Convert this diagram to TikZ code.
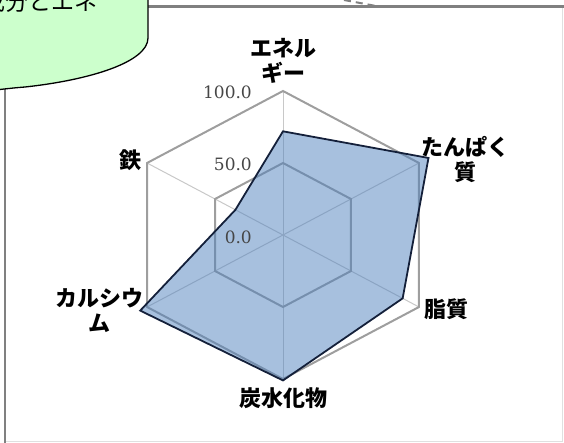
\documentclass[tikz,border=0pt]{standalone}
\usepackage{fontspec}
\newfontfamily\jpfont{Noto Sans CJK JP}
\newfontfamily\numfont{DejaVu Serif}
\usetikzlibrary{positioning}

\definecolor{bubblegreen}{RGB}{204,255,204}
\definecolor{areablue}{RGB}{79,129,189}
\definecolor{edgenavy}{RGB}{20,32,58}
\definecolor{gridgray}{RGB}{158,158,158}
\definecolor{spokegray}{RGB}{200,200,200}
\definecolor{numgray}{RGB}{70,70,70}
\definecolor{framegray}{RGB}{128,128,128}

\begin{document}
\begin{tikzpicture}[x=1pt, y=-1pt,
		grid/.style={draw=gridgray, line width=2pt},
		spoke/.style={draw=spokegray, line width=1pt},
		area/.style={draw=edgenavy, line width=1.8pt, fill=areablue, fill opacity=0.5, draw opacity=1},
		axislabel/.style={font=\jpfont\bfseries\fontsize{22}{25}\selectfont, align=center, inner sep=0},
		numlabel/.style={font=\numfont\fontsize{17}{17}\selectfont, text=numgray, anchor=east, inner sep=0}]
		\useasboundingbox (0,0) rectangle (564,443);
		\clip (0,0) rectangle (564,443);
		
		% frame
		\draw[draw=black!12, line width=1pt] (5,6) rectangle (562,441);
		\draw[framegray, line width=2.5pt] (5,443) -- (5,40);
		\draw[framegray, line width=2.5pt] (120,6.5) -- (564,6.5);
		\draw[framegray, line width=2pt, dash pattern=on 7pt off 5pt] (344,0) -- (376,6);	% cut arrow
		
		% radar chart
		\begin{scope}[shift={(283,235)}, x=1.57pt, y=1.44pt]
			\coordinate (c) at (0,0);
			\foreach \i in {0,...,5} {
				\coordinate (o\i) at (90-60*\i:100);
				\coordinate (h\i) at (90-60*\i:50);
				\draw[spoke] (c) -- (o\i);
			}
			\draw[grid] (o0) -- (o1) -- (o2) -- (o3) -- (o4) -- (o5) -- cycle;
			\draw[grid] (h0) -- (h1) -- (h2) -- (h3) -- (h4) -- (h5) -- cycle;
			\foreach \v [count=\i from 0] in {72,107,88,101,105,35}
				\coordinate (d\i) at (90-60*\i:\v);
			\draw[area] (d0) -- (d1) -- (d2) -- (d3) -- (d4) -- (d5) -- cycle;
		\end{scope}
		
		\node[numlabel] (v100) at (252,92) {100.0};
		\node[numlabel] (v50) at (252,164) {50.0};
		\node[numlabel] (v0) at (252,237) {0.0};
		
		\node[axislabel] (energy) at (283,61) {エネル\\ギー};
		\node[axislabel] (protein) at (465,160) {たんぱく\\質};
		\node[axislabel] (fat) at (446,309) {脂質};
		\node[axislabel] (carb) at (283,398) {炭水化物};
		\node[axislabel] (calcium) at (99,310) {カルシウ\\ム};
		\node[axislabel] (iron) at (130,160) {鉄};
		
		% callout
		\draw[fill=bubblegreen, line width=1.3pt] (-5,-5) -- (148,-5) -- (148,38)
			.. controls (148,62) and (90,80) .. (25,87) .. controls (12,88) and (5,89) .. (-5,90) -- cycle;
		\node[anchor=base west, inner sep=0, font=\jpfont\fontsize{23}{23}\selectfont] (title) at (-18,11) {成分とエネ};
	\end{tikzpicture}
\end{document}
